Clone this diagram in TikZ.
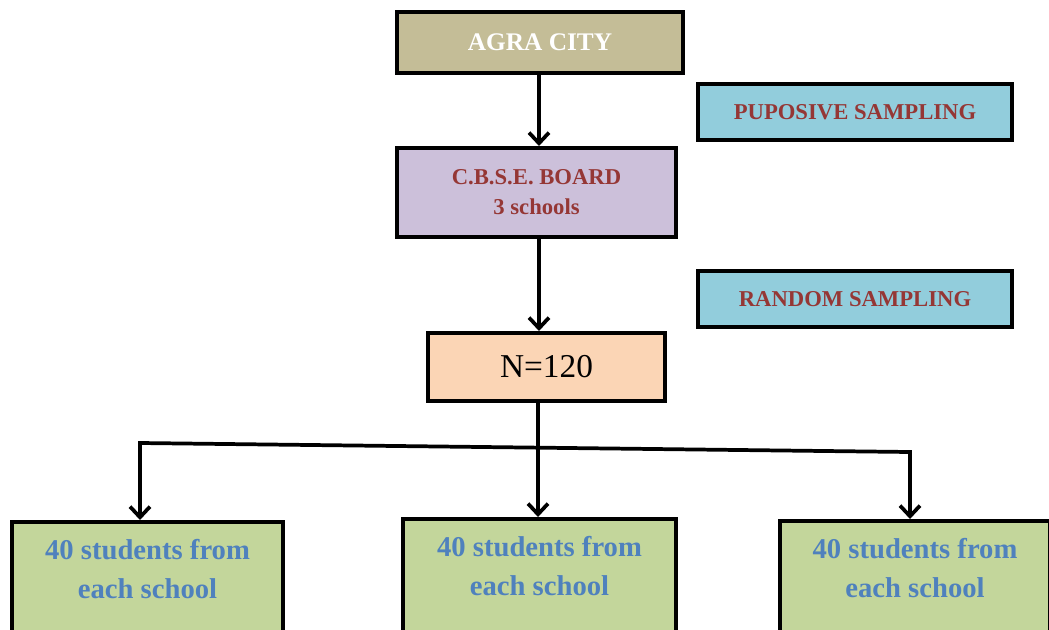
\documentclass[tikz,border=0pt]{standalone}
\usepackage{fontspec}
\setmainfont{Liberation Serif}
\usetikzlibrary{arrows.meta}
\definecolor{tanfill}{HTML}{C4BD97}
\definecolor{lilacfill}{HTML}{CCC0DA}
\definecolor{cyanfill}{HTML}{92CDDC}
\definecolor{peachfill}{HTML}{FBD5B5}
\definecolor{greenfill}{HTML}{C3D69B}
\definecolor{darkredtext}{HTML}{953735}
\definecolor{bluetext}{HTML}{4F81BD}
\tikzset{
  boxbase/.style={draw=black, line width=3pt, rectangle, inner sep=0pt, align=center},
  topbox/.style={boxbase, fill=tanfill, text=white, font=\fontsize{19}{22}\selectfont\bfseries,
    minimum width=214.5pt, minimum height=45.75pt},
  samplebox/.style={boxbase, fill=cyanfill, text=darkredtext, font=\fontsize{17}{21}\selectfont\bfseries,
    minimum width=235.5pt, minimum height=42pt},
  boardbox/.style={boxbase, fill=lilacfill, text=darkredtext, font=\fontsize{17}{22.5}\selectfont\bfseries,
    minimum width=209.25pt, minimum height=66.75pt},
  nbox/.style={boxbase, fill=peachfill, text=black, font=\fontsize{25}{28}\selectfont,
    minimum width=177.75pt, minimum height=51pt},
  leafbox/.style={boxbase, fill=greenfill, text=bluetext, font=\fontsize{21.5}{29}\selectfont\bfseries,
    anchor=north, inner ysep=13pt},
  conn/.style={line width=2.8pt, draw=black},
  arr/.style={conn, -{Straight Barb[length=8pt,width=15pt,line width=2.8pt]}},
  arr2/.style={conn, {Straight Barb[length=8pt,width=15pt,line width=2.8pt]}-{Straight Barb[length=8pt,width=15pt,line width=2.8pt]}, line join=miter}
}
\begin{document}
\begin{tikzpicture}[x=0.75pt,y=-0.75pt]
\useasboundingbox (0,0) rectangle (1049,629);
\clip (0,0) rectangle (1049,629);
\fill[white] (0,0) rectangle (1049,629);

\node[topbox] (agra) at (540,42.5) {AGRA CITY};
\node[samplebox] (pup) at (855,112) {PUPOSIVE SAMPLING};
\node[boardbox] (cbse) at (536.5,192.5) {C.B.S.E. BOARD\\3 schools};
\node[samplebox] (rand) at (855,299) {RANDOM SAMPLING};
\node[nbox] (n) at (546.5,367) {N=120};

\node[leafbox, minimum width=203.25pt] (l) at (147.5,520) {40 students from\\each school\rule[-80pt]{0pt}{0pt}};
\node[leafbox, minimum width=204.75pt] (m) at (539.5,517) {40 students from\\each school\rule[-80pt]{0pt}{0pt}};
\node[leafbox, minimum width=202.5pt] (r) at (915,519) {40 students from\\each school\rule[-80pt]{0pt}{0pt}};

\coordinate (c1) at (539,0);
\coordinate (c2) at (538,0);
\coordinate (bl) at (140,443);
\coordinate (br) at (910,452);

\draw[arr] (agra.south -| c1) -- (cbse.north -| c1);
\draw[arr] (cbse.south -| c1) -- (n.north -| c1);
\draw[arr] (n.south -| c2) -- (m.north -| c2);
\draw[arr2] (l.north -| bl) -- (bl) -- (br) -- (r.north -| br);
\end{tikzpicture}
\end{document}
